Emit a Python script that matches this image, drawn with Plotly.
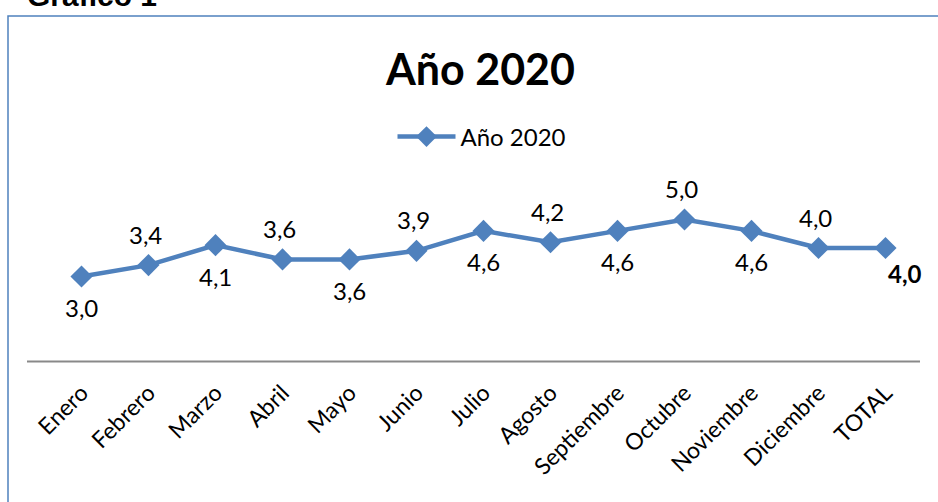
import plotly.graph_objects as go

months = ["Enero", "Febrero", "Marzo", "Abril", "Mayo", "Junio", "Julio",
          "Agosto", "Septiembre", "Octubre", "Noviembre", "Diciembre", "TOTAL"]
values = [3.0, 3.4, 4.1, 3.6, 3.6, 3.9, 4.6, 4.2, 4.6, 5.0, 4.6, 4.0, 4.0]
label_side = ["below", "above", "below", "above", "below", "above", "below",
              "above", "below", "above", "below", "above", "total"]

BLUE = "#4F81BD"
FONT = "Lato"
W, H = 938, 502
L, R, T, B = 48, 19, 191, 140
PW, PH = W - L - R, H - T - B


def px_x(px):
    return (px - L) / PW


def px_y(py):
    return (H - B - py) / PH


fig = go.Figure()
fig.add_trace(go.Scatter(
    x=months, y=values, mode="lines+markers", name="Año 2020",
    line=dict(color=BLUE, width=4.5),
    marker=dict(symbol="diamond", size=17, color=BLUE),
))

annotations = []
for m, v, s in zip(months, values, label_side):
    txt = f"{v:.1f}".replace(".", ",")
    if s == "above":
        annotations.append(dict(x=m, y=v, text=txt, showarrow=False, yshift=31, xshift=-3,
                                font=dict(size=24, color="black", family=FONT)))
    elif s == "below":
        annotations.append(dict(x=m, y=v, text=txt, showarrow=False, yshift=-31,
                                font=dict(size=24, color="black", family=FONT)))
    else:
        annotations.append(dict(x=m, y=v, text=f"<b>{txt}</b>", showarrow=False,
                                xshift=19, yshift=-25,
                                font=dict(size=24, color="black", family=FONT)))

annotations.append(dict(xref="paper", yref="paper", x=px_x(480), y=px_y(68),
                        text="<b>Año 2020</b>", showarrow=False,
                        xanchor="center", yanchor="middle",
                        font=dict(size=43, color="black", family=FONT)))
annotations.append(dict(xref="paper", yref="paper", x=px_x(25), y=px_y(14),
                        text="<b>Gráfico 1</b>", showarrow=False,
                        xanchor="left", yanchor="bottom",
                        font=dict(size=30, color="black", family="Liberation Sans")))

shapes = [
    dict(type="rect", xref="paper", yref="paper",
         x0=px_x(8), x1=px_x(945), y0=px_y(16), y1=px_y(520),
         line=dict(color=BLUE, width=1.5), fillcolor="rgba(0,0,0,0)", layer="below"),
    dict(type="line", xref="paper", yref="paper",
         x0=px_x(27), x1=px_x(920), y0=px_y(361.5), y1=px_y(361.5),
         line=dict(color="#898989", width=2)),
]

fig.update_layout(
    width=W, height=H,
    margin=dict(l=L, r=R, t=T, b=B, autoexpand=False),
    paper_bgcolor="white", plot_bgcolor="white",
    showlegend=True,
    legend=dict(orientation="h", x=px_x(482), y=px_y(137), xanchor="center",
                yanchor="middle", itemwidth=58,
                font=dict(size=24, color="black", family=FONT)),
    annotations=annotations,
    shapes=shapes,
    font=dict(family=FONT),
)
fig.update_xaxes(range=[-0.5, len(months) - 0.5], showline=False, showgrid=False,
                 zeroline=False, tickangle=-45,
                 tickfont=dict(size=23, color="black", family=FONT),
                 ticks="", ticklabelstandoff=12, automargin=False)
fig.update_yaxes(range=[0, 6], visible=False, showgrid=False, zeroline=False,
                 automargin=False)

fig.write_html("out.html", config={"displayModeBar": False},
               post_script="document.body.style.margin='0';document.body.style.overflow='hidden';")
